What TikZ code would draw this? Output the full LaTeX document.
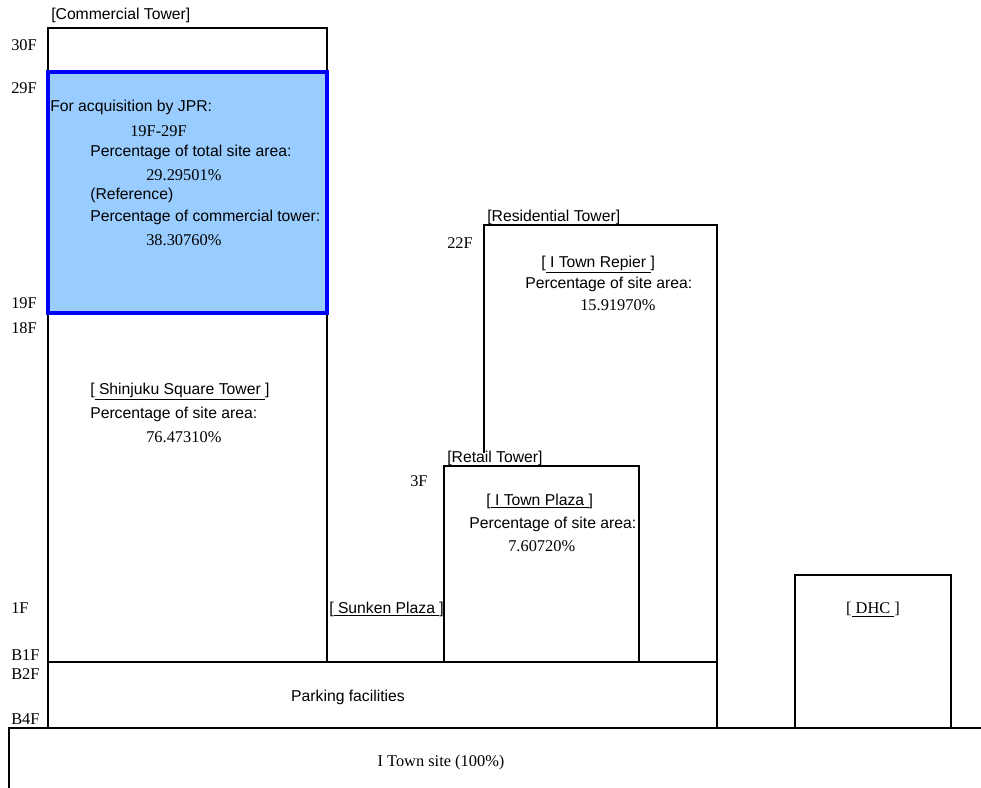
\documentclass[tikz,border=0pt]{standalone}
\usepackage{fontspec}
\setmainfont{Liberation Serif}
\setsansfont{Liberation Sans}
\usetikzlibrary{positioning}
\definecolor{jprblue}{RGB}{0,0,255}
\definecolor{jprfill}{RGB}{153,204,255}

\begin{document}
\begin{tikzpicture}[x=0.75pt, y=-0.75pt,
    wall/.style={draw=black, line width=1.5pt},
    sans/.style={font=\sffamily\fontsize{11.8}{13}\selectfont, inner sep=0pt, yshift=-2pt},
    serif/.style={font=\fontsize{12.3}{13}\selectfont, inner sep=0pt, yshift=-2pt},
    floor/.style={serif, anchor=west},
    lline/.style={sans, anchor=west}
  ]
  \useasboundingbox (0,0) rectangle (981,788);

  % buildings
  \draw[wall] (48,728) -- (48,28) -- (327,28) -- (327,662);
  \draw[wall] (48,662) rectangle (717,728);
  \draw[wall] (484,453) -- (484,225) -- (717,225) -- (717,662);
  \draw[wall] (444,662) -- (444,466) -- (639,466) -- (639,662);
  \draw[wall] (795,728) -- (795,575) -- (951,575) -- (951,728);
  \draw[wall] (9,788) -- (9,728) -- (981,728);
  \draw[draw=jprblue, fill=jprfill, line width=3pt] (48,72) rectangle (327,313);

  % floor levels
  \node[floor] (f30) at (11,42) {30F};
  \node[floor] (f29) at (11,85) {29F};
  \node[floor] (f19) at (11,300) {19F};
  \node[floor] (f18) at (11,325) {18F};
  \node[floor] (f1) at (11,605) {1F};
  \node[floor] (b1) at (11,652) {B1F};
  \node[floor] (b2) at (11,671) {B2F};
  \node[floor] (b4) at (11,716) {B4F};
  \node[floor] (f22) at (447,240) {22F};
  \node[floor] (f3) at (410,478) {3F};

  % commercial tower
  \node[lline] (comm) at (51,13) {[Commercial Tower]};
  \node[lline] (acq) at (50,105) {For acquisition by JPR:};
  \node[serif, anchor=west] (acqfl) at (130,128) {19F-29F};
  \node[lline] (acqpt) at (90,150) {Percentage of total site area:};
  \node[serif, anchor=west] (acqpv) at (146,172) {29.29501\%};
  \node[lline] (ref) at (90,193) {(Reference)};
  \node[lline] (refpt) at (90,215) {Percentage of commercial tower:};
  \node[serif, anchor=west] (refpv) at (146,237) {38.30760\%};

  \node[lline] (sst) at (90,389) {[\underline{\ Shinjuku Square Tower\ }]};
  \node[lline] (sstpt) at (90,412) {Percentage of site area:};
  \node[serif, anchor=west] (sstpv) at (146,434) {76.47310\%};

  % residential tower
  \node[lline] (resi) at (487,215) {[Residential Tower]};
  \node[lline] (rep) at (541,262) {[\underline{\ I Town Repier\ }]};
  \node[lline] (reppt) at (525,282) {Percentage of site area:};
  \node[serif, anchor=west] (reppv) at (580,302) {15.91970\%};

  % retail tower
  \node[lline] (retail) at (447,456) {[Retail Tower]};
  \node[lline] (plaza) at (486,499) {[\underline{\ I Town Plaza\ }]};
  \node[lline] (plazapt) at (469,522) {Percentage of site area:};
  \node[serif, anchor=west] (plazapv) at (508,543) {7.60720\%};

  % low parts
  \node[lline] (sunken) at (329,607) {[\underline{\ Sunken Plaza\ }]};
  \node[serif] (dhc) at (873,607) {[\underline{\ DHC\ }]};
  \node[sans] (park) at (348,695) {Parking facilities};
  \node[serif] (site) at (441,760) {I Town site (100\%)};
\end{tikzpicture}
\end{document}
